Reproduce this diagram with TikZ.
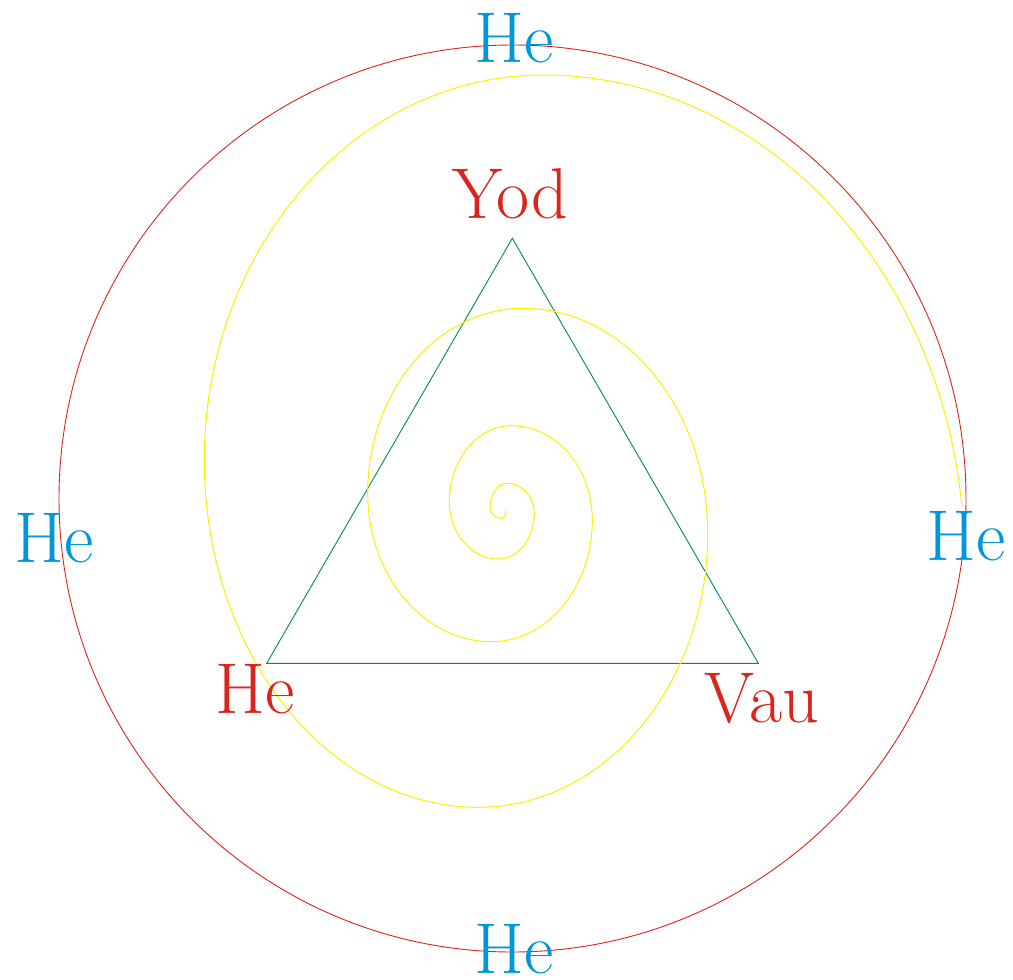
\documentclass[tikz,border=0pt]{standalone}
\usepackage{fontspec}
\definecolor{tred}{RGB}{218,37,29}
\definecolor{tblue}{RGB}{0,150,220}
\definecolor{tgreen}{RGB}{0,140,70}
\definecolor{tyellow}{RGB}{255,238,0}
\tikzset{
  lbl/.style={inner sep=0pt, anchor=base, font=\fontsize{72}{72}\selectfont},
  redlbl/.style={lbl, text=tred},
  bluelbl/.style={lbl, text=tblue},
  ring/.style={draw=tred, line width=0.9pt},
  tri/.style={draw=tgreen, line width=0.9pt},
  spir/.style={draw=tyellow, line width=1pt}
}
\begin{document}
\begin{tikzpicture}[x=1pt,y=-1pt]
\useasboundingbox (0,0) rectangle (1013,980);
% outer circle
\draw[ring] (512.5,498.5) circle[radius=453.5];
% triangle
\coordinate (A) at (512.3,238.3);
\coordinate (B) at (266.7,663.3);
\coordinate (C) at (758.3,663.3);
\draw[tri] (A) -- (B) -- (C) -- cycle;
% spiral
\coordinate (S) at (506,509.3);
\draw[spir] (S)
  arc[start angle=0,end angle=90,x radius=4.3,y radius=9]
  arc[start angle=90,end angle=180,x radius=11.7,y radius=10]
  arc[start angle=180,end angle=270,x radius=16.7,y radius=25]
  arc[start angle=270,end angle=360,x radius=27.6,y radius=30]
  arc[start angle=0,end angle=90,x radius=36,y radius=45.7]
  arc[start angle=90,end angle=180,x radius=49,y radius=57.3]
  arc[start angle=180,end angle=270,x radius=62.4,y radius=76]
  arc[start angle=270,end angle=360,x radius=80.6,y radius=94.3]
  arc[start angle=0,end angle=90,x radius=100.6,y radius=121.7]
  arc[start angle=90,end angle=180,x radius=124,y radius=148.4]
  arc[start angle=180,end angle=270,x radius=155.6,y radius=185]
  arc[start angle=270,end angle=360,x radius=184.4,y radius=225]
  arc[start angle=0,end angle=90,x radius=229.4,y radius=274]
  arc[start angle=90,end angle=180,x radius=274,y radius=347.3]
  arc[start angle=180,end angle=270,x radius=339,y radius=385]
  arc[start angle=270,end angle=353.7,x radius=421.2,y radius=485];
% labels
\node[redlbl] (yod) at (510,218) {Yod};
\node[redlbl] (he1) at (255,713) {He};
\node[redlbl] (vau) at (762,722) {Vau};
\node[bluelbl] (hetop) at (514,62) {He};
\node[bluelbl] (heleft) at (54,562) {He};
\node[bluelbl] (heright) at (966,560) {He};
\node[bluelbl] (hebot) at (514,973) {He};
\end{tikzpicture}
\end{document}
